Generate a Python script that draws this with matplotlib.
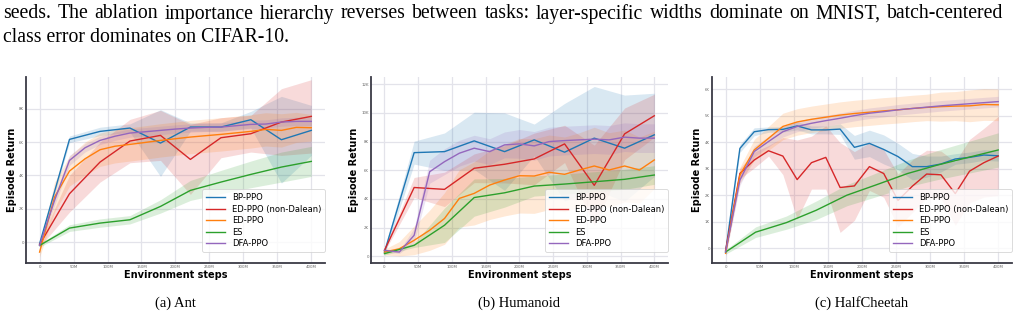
import numpy as np
import matplotlib
matplotlib.use("Agg")
from matplotlib import pyplot as plt

# x positions (millions of steps)
x10 = [0, 44, 89, 133, 178, 222, 267, 311, 356, 400]
x19 = [0, 22, 44, 67, 89, 111, 133, 156, 178, 200, 222, 244, 267, 289, 311, 333, 356, 378, 400]
x20 = [0, 21, 42, 63, 84, 105, 126, 147, 168, 189, 211, 232, 253, 274, 295, 316, 337, 358, 379, 400]

labels = ['BP-PPO', 'ED-PPO (non-Dalean)', 'ED-PPO', 'ES', 'DFA-PPO']
colors = ['#1f77b4', '#d62728', '#ff7f0e', '#2ca02c', '#9467bd']

xticks = [0, 50, 100, 150, 200, 250, 300, 350, 400]
xticklabels = ['0', '50M', '100M', '150M', '200M', '250M', '300M', '350M', '400M']

# Ant
ant_bp = [-100, 6160, 6640, 6840, 5940, 6900, 6900, 7340, 6140, 6700]
ant_bp_sd = [150, 200, 250, 250, 2000, 250, 250, 500, 2600, 1500]
ant_ednd = [-150, 2900, 4800, 6060, 6400, 4960, 6260, 6500, 7200, 7540]
ant_ednd_sd = [150, 1100, 1200, 1300, 1500, 2100, 1200, 1100, 2000, 2200]
ant_ed = [-600, 2700, 4260, 5000, 5540, 5750, 5860, 5980, 6100, 6200, 6300, 6380, 6460, 6550, 6640, 6760, 6700, 6880, 6860]
ant_ed_sd = [300, 900, 900, 1000, 1000, 1000, 1000, 1000, 1000, 1000, 1000, 1000, 1000, 1000, 1000, 1000, 1000, 900, 800]
ant_es = [-200, 840, 1140, 1340, 2140, 3100, 3600, 4060, 4500, 4840]
ant_es_sd = [100, 200, 250, 250, 400, 600, 700, 800, 900, 900]
ant_dfa = [-200, 2500, 4900, 5660, 6100, 6350, 6540, 6620, 6700, 6780, 6840, 6880, 6900, 6980, 7060, 7080, 7200, 7240, 7240]
ant_dfa_sd = [100, 300, 300, 250, 250, 250, 250, 250, 250, 250, 250, 250, 250, 250, 250, 250, 250, 250, 250]
ant_yticks = [0, 2000, 4000, 6000, 8000]
ant_yticklabels = ['0', '2K', '4K', '6K', '8K']

# Humanoid
hum_bp = [300, 7230, 7300, 8050, 7300, 8120, 7260, 8240, 7540, 8470]
hum_bp_sd = [200, 800, 1300, 2000, 2700, 1100, 3400, 3600, 3700, 2900]
hum_ednd = [420, 4800, 4670, 6140, 6420, 6790, 7840, 4950, 8540, 9800]
hum_ednd_sd = [100, 700, 1200, 1000, 1300, 1800, 1300, 2800, 1800, 1500]
hum_ed = [300, 530, 1120, 1820, 2640, 4040, 4390, 4970, 5320, 5620, 5600, 5860, 5720, 6020, 6300, 6020, 6300, 6020, 6720]
hum_ed_sd = [200, 500, 1000, 1400, 1800, 2000, 2200, 2400, 2500, 2600, 2600, 2600, 2600, 2600, 2700, 2600, 2500, 2300, 2000]
hum_es = [190, 770, 2170, 4100, 4430, 4900, 5040, 5200, 5370, 5670]
hum_es_sd = [100, 150, 1200, 1300, 1000, 700, 700, 700, 700, 650]
hum_dfa = [420, 300, 1470, 5900, 6600, 7190, 7540, 7300, 7770, 7840, 7700, 8000, 8070, 8120, 8170, 8120, 8310, 8240, 8240]
hum_dfa_sd = [100, 100, 500, 800, 900, 900, 900, 900, 900, 1000, 1000, 1000, 1000, 1000, 1000, 1000, 1000, 1000, 1000]
hum_yticks = [0, 2000, 4000, 6000, 8000, 10000, 12000]
hum_yticklabels = ['0', '2K', '4K', '6K', '8K', '10K', '12K']

# HalfCheetah
hc_bp = [-150, 3770, 4400, 4480, 4490, 4620, 4470, 4470, 4500, 3810, 3960, 3730, 3460, 3080, 3080, 3180, 3370, 3430, 3520, 3490]
hc_bp_sd = [100, 150, 150, 100, 100, 150, 150, 150, 200, 450, 500, 550, 500, 500, 400, 300, 200, 200, 200, 200]
hc_ednd = [-90, 2820, 3330, 3680, 3480, 2590, 3230, 3430, 2290, 2350, 3080, 2820, 1800, 2340, 2800, 2770, 2060, 2910, 3230, 3480]
hc_ednd_sd = [100, 200, 300, 200, 700, 1500, 1000, 1200, 1700, 1300, 900, 900, 1000, 1000, 900, 900, 1200, 1200, 1300, 1500]
hc_ed = [-200, 2760, 3710, 4150, 4600, 4770, 4870, 4950, 5030, 5090, 5140, 5190, 5230, 5280, 5320, 5350, 5370, 5380, 5430, 5420]
hc_ed_sd = [100, 300, 400, 450, 500, 500, 500, 500, 500, 500, 500, 500, 500, 500, 500, 550, 550, 600, 600, 600]
hc_es = [-150, 600, 960, 1430, 2000, 2400, 2820, 3140, 3430, 3710]
hc_es_sd = [80, 200, 250, 350, 400, 450, 500, 550, 600, 650]
hc_dfa = [-150, 2570, 3650, 4030, 4400, 4600, 4720, 4820, 4910, 5010, 5100, 5160, 5230, 5280, 5330, 5380, 5420, 5460, 5500, 5540]
hc_dfa_sd = [150, 200, 200, 200, 200, 200, 200, 200, 200, 200, 200, 200, 200, 200, 200, 200, 200, 200, 200, 200]
hc_yticks = [0, 1000, 2000, 3000, 4000, 5000, 6000]
hc_yticklabels = ['0', '1K', '2K', '3K', '4K', '5K', '6K']

panels = [
    ('(a) Ant', [0.0255, 0.170, 0.293, 0.587], -0.029, (-1260, 9900), ant_yticks, ant_yticklabels,
     [(x10, ant_bp, ant_bp_sd), (x10, ant_ednd, ant_ednd_sd), (x19, ant_ed, ant_ed_sd),
      (x10, ant_es, ant_es_sd), (x19, ant_dfa, ant_dfa_sd)]),
    ('(b) Humanoid', [0.3637, 0.170, 0.291, 0.587], -0.040, (-470, 12500), hum_yticks, hum_yticklabels,
     [(x10, hum_bp, hum_bp_sd), (x10, hum_ednd, hum_ednd_sd), (x19, hum_ed, hum_ed_sd),
      (x10, hum_es, hum_es_sd), (x19, hum_dfa, hum_dfa_sd)]),
    ('(c) HalfCheetah', [0.698, 0.170, 0.294, 0.587], -0.033, (-570, 6470), hc_yticks, hc_yticklabels,
     [(x20, hc_bp, hc_bp_sd), (x20, hc_ednd, hc_ednd_sd), (x20, hc_ed, hc_ed_sd),
      (x10, hc_es, hc_es_sd), (x20, hc_dfa, hc_dfa_sd)]),
]

fig = plt.figure(figsize=(10.2, 3.17), dpi=100)

for cap, pos, ylx, ylim, yt, ytl, series in panels:
    ax = fig.add_axes(pos)
    for (xs, m, sd), lab, c in zip(series, labels, colors):
        xs = np.array(xs); m = np.array(m); sd = np.array(sd)
        ax.fill_between(xs, m - sd, m + sd, color=c, alpha=0.17, lw=0)
        ax.plot(xs, m, color=c, lw=1.0, label=lab)
    ax.set_xlim(-20, 420)
    ax.set_ylim(*ylim)
    ax.set_xticks(xticks)
    ax.set_xticklabels(xticklabels)
    ax.set_yticks(yt)
    ax.set_yticklabels(ytl)
    ax.tick_params(labelsize=2.8, colors='#666666', length=0, pad=1.5)
    ax.grid(True, color='#e3e3ea', lw=0.9)
    ax.set_axisbelow(True)
    for s in ['top', 'right']:
        ax.spines[s].set_visible(False)
    for s in ['left', 'bottom']:
        ax.spines[s].set_color('#3a3a45')
        ax.spines[s].set_linewidth(1.3)
    ax.set_xlabel('Environment steps', fontsize=7, fontweight='bold')
    ax.xaxis.set_label_coords(0.5, -0.036)
    ax.set_ylabel('Episode Return', fontsize=7, fontweight='bold')
    ax.yaxis.set_label_coords(ylx, 0.5)
    leg = ax.legend(loc='lower right', bbox_to_anchor=(1.0, 0.06), fontsize=6.0, frameon=True,
                    fancybox=True, borderaxespad=0, handlelength=2.3, labelspacing=0.3,
                    borderpad=0.45, handletextpad=0.8)
    leg.get_frame().set_edgecolor('#cccccc')
    leg.get_frame().set_linewidth(0.6)
    fig.text(pos[0] + pos[2] / 2, 1 - 303 / 317, cap, ha='center', va='center',
             fontsize=10.5, family='Liberation Serif')

# caption text above the figure, first line justified
line1 = 'seeds.  The ablation importance hierarchy reverses between tasks: layer-specific widths dominate on MNIST, batch-centered'
line2 = 'class error dominates on CIFAR-10.'
fs = 14.2
x0, x1 = 3, 1003
words = line1.split()
fig.canvas.draw()
r = fig.canvas.get_renderer()
ws = []
for w in words:
    t = fig.text(0, 0, w, fontsize=fs, family='Liberation Serif')
    ws.append(t.get_window_extent(renderer=r).width)
    t.remove()
gap = (x1 - x0 - sum(ws)) / (len(words) - 1)
xp = x0
for w, wd in zip(words, ws):
    fig.text(xp / 1020, 1 - 14 / 317, w, ha='left', va='center', fontsize=fs, family='Liberation Serif')
    xp += wd + gap
fig.text(x0 / 1020, 1 - 37 / 317, line2, ha='left', va='center', fontsize=fs, family='Liberation Serif')

fig.savefig('out.png', dpi=100)
